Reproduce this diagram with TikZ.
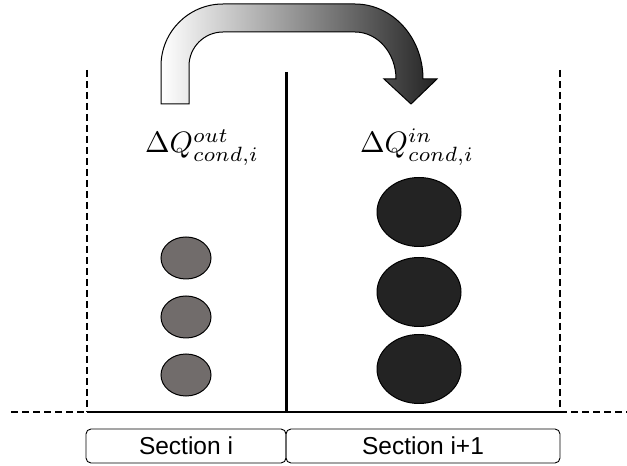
\documentclass[tikz,border=0pt]{standalone}
\usepackage{fontspec}
\newfontfamily\secfont{Liberation Sans}
\usetikzlibrary{shapes.geometric}
\definecolor{smallgray}{HTML}{716C6B}
\definecolor{bigdark}{HTML}{232323}
\newcommand{\fluxlabel}[1]{\scalebox{2.95}{$#1$}}
\tikzset{
  wall/.style={line width=2.5pt, dash pattern=on 7pt off 4pt},
  pebble/.style={ellipse, draw, line width=1pt, inner sep=0pt, fill=smallgray,
    minimum width=50pt, minimum height=42pt},
  bigpebble/.style={pebble, fill=bigdark, minimum width=84pt, minimum height=69pt},
  secbox/.style={draw, rounded corners=5pt, line width=0.9pt, minimum height=34pt,
    inner sep=0pt, font=\secfont\fontsize{24.5}{28}\selectfont},
  flux/.style={anchor=base, inner sep=0pt}
}
\begin{document}
\begin{tikzpicture}[x=1pt,y=1pt]
\useasboundingbox (0,0) rectangle (627,466);

% walls and floor
\coordinate (LT) at (87,396);
\coordinate (LB) at (87,54);
\coordinate (RT) at (560,396);
\coordinate (RB) at (560,54);
\coordinate (MT) at (286,394);
\coordinate (MB) at (286,54);
\coordinate (FL) at (11,54);
\coordinate (FR) at (627,54);
\draw[wall] (LT) -- (LB);
\draw[wall] (RT) -- (RB);
\draw[wall] (FL) -- (LB);
\draw[wall] (RB) -- (FR);
\draw[line width=2.2pt] (LB) -- (RB);
\draw[line width=3pt] (MT) -- (MB);

% heat flow arrow
\shadedraw[left color=white, right color=bigdark, line width=1pt]
  (161,362) -- (161,400) arc[start angle=180, end angle=90, radius=62]
  -- (355,462) arc[start angle=90, end angle=0, x radius=68, y radius=75]
  -- (437,387) -- (411,362) -- (384,387) -- (396,387)
  arc[start angle=0, end angle=90, x radius=41, y radius=47]
  -- (223,434) arc[start angle=90, end angle=180, radius=34]
  -- (189,362) -- cycle;

\node[flux] (qout) at (202,313) {\fluxlabel{\Delta Q^{out}_{cond,i}}};
\node[flux] (qin) at (417,313) {\fluxlabel{\Delta Q^{in}_{cond,i}}};

% pebbles
\node[pebble] (p1) at (186,208) {};
\node[pebble] (p2) at (186,149) {};
\node[pebble] (p3) at (186,91) {};
\node[bigpebble] (b1) at (419,254) {};
\node[bigpebble] (b2) at (419,174) {};
\node[bigpebble] (b3) at (419,97) {};

% sections
\node[secbox, minimum width=200pt] (si) at (186,20) {Section i};
\node[secbox, minimum width=274pt] (sj) at (423,20) {Section i+1};

\end{tikzpicture}
\end{document}
